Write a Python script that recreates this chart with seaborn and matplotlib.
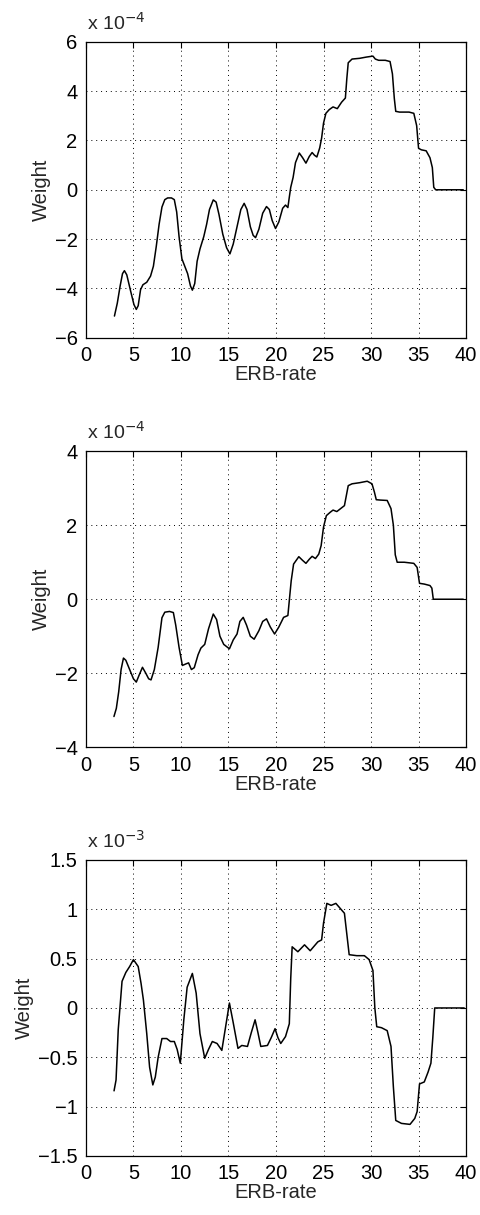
import numpy as np
import pandas as pd
import matplotlib
matplotlib.use("Agg")
import matplotlib.pyplot as plt
import seaborn as sns

####################################################################################
## DATA (weights in units of the exponent shown above each axis)
####################################################################################
x_top = [3.0, 3.3, 3.6, 3.85, 4.05, 4.3, 4.7, 5.05, 5.3, 5.5, 5.75, 6.0, 6.4, 6.8,
         7.1, 7.4, 7.7, 8.0, 8.3, 8.6, 9.0, 9.3, 9.55, 9.8, 10.1, 10.4, 10.7, 11.0,
         11.2, 11.45, 11.7, 12.0, 12.4, 12.7, 13.0, 13.4, 13.7, 14.0, 14.4, 14.8,
         15.15, 15.5, 15.9, 16.3, 16.65, 16.95, 17.3, 17.6, 17.85, 18.2, 18.6, 19.0,
         19.3, 19.6, 19.95, 20.3, 20.7, 21.0, 21.25, 21.4, 21.55, 21.8, 22.05, 22.45,
         22.8, 23.15, 23.5, 23.8, 24.05, 24.3, 24.6, 24.8, 25.0, 25.25, 25.6, 26.0,
         26.45, 26.9, 27.3, 27.45, 27.6, 28.0, 28.8, 29.5, 30.2, 30.45, 30.8, 31.5,
         32.0, 32.25, 32.45, 32.6, 33.0, 34.0, 34.5, 34.8, 35.0, 35.3, 35.8, 36.2,
         36.45, 36.6, 36.8, 37.5, 38.5, 39.7]
w_top = [-5.12, -4.6, -3.9, -3.4, -3.28, -3.45, -4.1, -4.65, -4.85, -4.7, -4.05, -3.85,
         -3.75, -3.5, -3.1, -2.3, -1.4, -0.7, -0.4, -0.33, -0.33, -0.4, -0.9, -1.9,
         -2.8, -3.1, -3.4, -3.9, -4.07, -3.8, -2.9, -2.4, -1.9, -1.4, -0.8, -0.41,
         -0.5, -1.0, -1.8, -2.35, -2.6, -2.2, -1.5, -0.8, -0.55, -0.8, -1.5, -1.85,
         -1.94, -1.6, -0.95, -0.68, -0.8, -1.25, -1.57, -1.3, -0.75, -0.62, -0.72,
         -0.3, 0.1, 0.5, 1.1, 1.49, 1.3, 1.08, 1.35, 1.51, 1.4, 1.33, 1.7, 2.1, 2.7,
         3.1, 3.25, 3.36, 3.29, 3.55, 3.72, 4.5, 5.15, 5.3, 5.33, 5.38, 5.42, 5.3,
         5.25, 5.25, 5.2, 4.7, 3.7, 3.18, 3.15, 3.15, 3.1, 2.6, 1.68, 1.62, 1.58,
         1.3, 0.9, 0.1, 0.0, 0.0, 0.0, 0.0]

x_mid = [2.95, 3.2, 3.45, 3.7, 3.95, 4.2, 4.6, 5.0, 5.3, 5.6, 5.95, 6.3, 6.6, 6.85,
         7.2, 7.6, 8.0, 8.3, 8.8, 9.2, 9.45, 9.8, 10.15, 10.5, 10.8, 11.1, 11.4,
         11.8, 12.1, 12.5, 12.9, 13.4, 13.75, 14.1, 14.5, 15.1, 15.5, 15.9, 16.2,
         16.55, 16.9, 17.3, 17.7, 18.2, 18.6, 19.0, 19.4, 19.85, 20.3, 20.8, 21.25,
         21.45, 21.6, 21.85, 22.4, 22.8, 23.15, 23.5, 23.8, 24.15, 24.5, 24.75, 25.0,
         25.3, 25.7, 26.0, 26.4, 26.8, 27.2, 27.4, 27.6, 28.0, 28.8, 29.6, 30.1,
         30.35, 30.55, 31.0, 31.7, 32.1, 32.35, 32.55, 32.75, 33.5, 34.5, 34.85, 35.0,
         35.1, 35.6, 36.2, 36.4, 36.55, 37.5, 38.5, 39.7]
w_mid = [-3.17, -2.95, -2.5, -1.9, -1.59, -1.65, -1.9, -2.15, -2.24, -2.05, -1.84,
         -2.0, -2.15, -2.18, -1.9, -1.3, -0.5, -0.35, -0.33, -0.36, -0.7, -1.3, -1.79,
         -1.75, -1.72, -1.9, -1.85, -1.5, -1.32, -1.22, -0.8, -0.4, -0.55, -1.0, -1.22,
         -1.34, -1.1, -0.94, -0.6, -0.49, -0.7, -1.0, -1.08, -0.85, -0.6, -0.53, -0.75,
         -0.94, -0.75, -0.49, -0.44, 0.1, 0.5, 0.95, 1.15, 1.05, 0.97, 1.08, 1.16, 1.1,
         1.22, 1.45, 1.95, 2.26, 2.35, 2.41, 2.37, 2.45, 2.53, 2.8, 3.07, 3.12, 3.15,
         3.19, 3.12, 2.9, 2.69, 2.68, 2.67, 2.45, 2.0, 1.2, 1.0, 1.0, 0.97, 0.86, 0.6,
         0.43, 0.41, 0.37, 0.3, 0.0, 0.0, 0.0, 0.0]

x_bot = [2.96, 3.17, 3.4, 3.8, 4.2, 4.6, 5.0, 5.5, 5.8, 6.05, 6.4, 6.7, 7.04, 7.3,
         7.6, 8.0, 8.5, 8.9, 9.3, 9.6, 9.93, 10.3, 10.65, 11.2, 11.6, 12.0, 12.5,
         12.9, 13.3, 13.8, 14.3, 14.7, 15.1, 15.5, 16.0, 16.4, 17.0, 17.4, 17.8, 18.1,
         18.4, 19.1, 19.5, 19.9, 20.2, 20.5, 21.0, 21.4, 21.55, 21.7, 22.3, 23.0,
         23.6, 24.4, 24.8, 25.0, 25.35, 25.8, 26.3, 27.2, 27.45, 27.7, 28.5, 29.3,
         29.8, 30.2, 30.4, 30.6, 31.1, 31.7, 32.1, 32.35, 32.6, 33.2, 34.1, 34.6,
         34.85, 35.1, 35.6, 36.0, 36.3, 36.5, 36.7, 37.5, 38.5, 39.8]
w_bot = [-0.84, -0.73, -0.22, 0.27, 0.36, 0.42, 0.49, 0.42, 0.25, 0.08, -0.26, -0.6,
         -0.78, -0.7, -0.5, -0.31, -0.31, -0.34, -0.34, -0.42, -0.56, -0.12, 0.21,
         0.35, 0.15, -0.26, -0.51, -0.42, -0.34, -0.36, -0.43, -0.19, 0.05, -0.15,
         -0.41, -0.38, -0.39, -0.25, -0.12, -0.25, -0.39, -0.38, -0.3, -0.21, -0.3,
         -0.36, -0.29, -0.16, 0.3, 0.62, 0.57, 0.64, 0.58, 0.67, 0.69, 0.86, 1.06,
         1.04, 1.06, 0.96, 0.75, 0.54, 0.53, 0.53, 0.49, 0.38, 0.0, -0.19, -0.2,
         -0.23, -0.39, -0.8, -1.14, -1.17, -1.18, -1.12, -1.05, -0.77, -0.75, -0.65,
         -0.56, -0.3, 0.0, 0.0, 0.0, 0.0]

x_ticks = [0, 5, 10, 15, 20, 25, 30, 35, 40]
y_ticks_top = [-6, -4, -2, 0, 2, 4, 6]
y_ticks_mid = [-4, -2, 0, 2, 4]
y_ticks_bot = [-1.5, -1, -0.5, 0, 0.5, 1, 1.5]
y_labels_bot = ["\u22121.5", "\u22121", "\u22120.5", "0", "0.5", "1", "1.5"]
exponents = [-4, -4, -3]

####################################################################################
## Viz
####################################################################################
sns.set_theme(style="white")
plt.rcParams['font.family'] = ['Liberation Sans', 'DejaVu Sans']

fig = plt.figure(figsize=(4.8, 12.15), dpi=100)
bottoms = [0.722, 0.385, 0.0486]

panels = [
    (x_top, w_top, y_ticks_top, None),
    (x_mid, w_mid, y_ticks_mid, None),
    (x_bot, w_bot, y_ticks_bot, y_labels_bot),
]

for i, (xs, ws, yt, ylab) in enumerate(panels):
    ax = fig.add_axes([0.179, bottoms[i], 0.792, 0.2436])
    df = pd.DataFrame({'ERB-rate': xs, 'Weight': ws})
    sns.lineplot(data=df, x='ERB-rate', y='Weight', ax=ax, color='black',
                 linewidth=1.1, sort=False, estimator=None)

    ax.set_xlim(0, 40)
    ax.set_ylim(yt[0], yt[-1])
    ax.set_xticks(x_ticks)
    ax.set_yticks(yt)
    if ylab is not None:
        ax.set_yticklabels(ylab)
    ax.grid(True, linestyle=(0, (1, 4)), color='black', linewidth=0.7)
    ax.tick_params(direction='in', top=True, right=True, length=4, width=0.8,
                   labelsize=14.5, colors='black', pad=6)
    for s in ax.spines.values():
        s.set_color('black')
        s.set_linewidth(0.9)
    ax.set_xlabel('ERB-rate', fontsize=14.5, labelpad=0)
    ax.set_ylabel('Weight', fontsize=14.5, labelpad=3)
    ax.text(0.003, 1.028, r'x 10$^{%d}$' % exponents[i], transform=ax.transAxes,
            fontsize=14, ha='left', va='bottom')

plt.savefig("out.png", dpi=100)
